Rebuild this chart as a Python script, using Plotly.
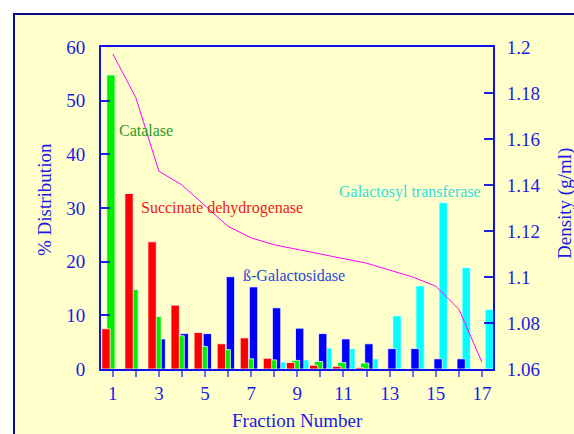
import plotly.graph_objects as go

fractions = list(range(1, 18))
succinate = [7.5, 32.7, 23.7, 11.9, 6.8, 4.7, 5.8, 2.0, 1.2, 0.7, 0.5, 0.25, None, None, None, None, None]
catalase = [54.8, 14.8, 9.8, 6.2, 4.2, 3.6, 1.9, 1.7, 1.6, 1.4, 1.2, 1.1, None, None, None, None, None]
beta_gal = [None, None, 5.6, 6.6, 6.6, 17.2, 15.3, 11.4, 7.6, 6.6, 5.6, 4.7, 3.8, 3.8, 1.9, 1.9, None]
galactosyl = [None, None, None, None, None, None, None, 1.3, 1.7, 3.9, 3.8, 1.9, 9.9, 15.5, 31.0, 18.9, 11.1]
density = [1.197, 1.178, 1.146, 1.140, 1.131, 1.122, 1.117, 1.114, 1.112, 1.110,
           1.108, 1.106, 1.103, 1.100, 1.096, 1.086, 1.063]

x_ticks = [1, 3, 5, 7, 9, 11, 13, 15, 17]
y_ticks = [0, 10, 20, 30, 40, 50, 60]
y2_ticks = [1.06, 1.08, 1.1, 1.12, 1.14, 1.16, 1.18, 1.2]
y2_text = ["1.06", "1.08", "1.1", "1.12", "1.14", "1.16", "1.18", "1.2"]

FONT = "Liberation Serif, Times New Roman, serif"
BLUE = "#1a1ae6"
BG = "#FFFFCC"
W = 0.36
edge = dict(color="rgba(255,255,255,0.75)", width=1)

PL, PT, PW, PH = 101, 47, 392, 322   # plot area on screen
FW, FH = 574, 434

fig = go.Figure()
# drawing order: cyan (back), blue, green, red (front)
fig.add_trace(go.Bar(x=fractions, y=galactosyl, name="Galactosyl transferase",
                     marker=dict(color="#00FFFF", line=edge), width=W, offset=0.14))
fig.add_trace(go.Bar(x=fractions, y=beta_gal, name="ß-Galactosidase",
                     marker=dict(color="#0000FF", line=edge), width=W, offset=-0.08))
fig.add_trace(go.Bar(x=fractions, y=catalase, name="Catalase",
                     marker=dict(color="#00EE00", line=edge), width=W, offset=-0.26))
fig.add_trace(go.Bar(x=fractions, y=succinate, name="Succinate dehydrogenase",
                     marker=dict(color="#FF0000", line=edge), width=W, offset=-0.475))
fig.add_trace(go.Scatter(x=fractions, y=density, yaxis="y2", mode="lines",
                         line=dict(color="#FF00FF", width=1), name="Density"))

fig.update_layout(
    width=FW, height=FH,
    margin=dict(l=PL, r=FW - PL - PW, t=PT, b=FH - PT - PH),
    paper_bgcolor="white", plot_bgcolor=BG,
    barmode="overlay", showlegend=False,
    font=dict(family=FONT, size=19, color=BLUE),
    xaxis=dict(range=[0.49, 17.48], tickvals=list(range(1, 18)),
               ticktext=[str(v) if v in x_ticks else "" for v in range(1, 18)],
               ticks="outside", ticklen=6, tickcolor="#7070ee", tickwidth=1.5,
               showline=True, linecolor="#1010ee", linewidth=2, mirror=True,
               showgrid=False, zeroline=False,
               tickfont=dict(family=FONT, size=19, color=BLUE)),
    yaxis=dict(range=[0, 60], tickvals=y_ticks, ticks="inside", ticklen=9,
               tickcolor="#2020dd", tickwidth=1.5,
               showline=True, linecolor="#1010ee", linewidth=2,
               showgrid=False, zeroline=False, ticklabelstandoff=10,
               tickfont=dict(family=FONT, size=19, color=BLUE)),
    yaxis2=dict(range=[1.06, 1.2], tickvals=y2_ticks, ticktext=y2_text,
                overlaying="y", side="right", ticks="inside", ticklen=9,
                tickcolor="#2020dd", tickwidth=1.5,
                showline=True, linecolor="#1010ee", linewidth=2,
                showgrid=False, zeroline=False, ticklabelstandoff=8,
                tickfont=dict(family=FONT, size=19, color=BLUE)),
)

def px_x(p):
    return (p - PL) / PW

def px_y(p):
    return (PT + PH - p) / PH

# outer panel
fig.add_shape(type="rect", xref="paper", yref="paper",
              x0=px_x(14), x1=px_x(700), y0=px_y(600), y1=px_y(14),
              line=dict(color="#0a0a8a", width=2), fillcolor=BG, layer="below")

# axis titles
fig.add_annotation(text="% Distribution", xref="paper", yref="paper",
                   x=px_x(45), y=px_y(200), textangle=-90,
                   showarrow=False, xanchor="center", yanchor="middle",
                   font=dict(family=FONT, size=19, color=BLUE))
fig.add_annotation(text="Density (g/ml)", xref="paper", yref="paper",
                   x=px_x(565), y=px_y(204), textangle=-90,
                   showarrow=False, xanchor="center", yanchor="middle",
                   font=dict(family=FONT, size=19, color=BLUE))
fig.add_annotation(text="Fraction Number", xref="paper", yref="paper",
                   x=px_x(297.5), y=px_y(420.5),
                   showarrow=False, xanchor="center", yanchor="middle",
                   font=dict(family=FONT, size=19, color=BLUE))

# series labels
labels = [
    ("Catalase", 1.17, 44.5, "#2a9a2a"),
    ("Succinate dehydrogenase", 2.15, 30.0, "#ee1a1a"),
    ("ß-Galactosidase", 6.56, 17.5, "#2a48d8"),
    ("Galactosyl transferase", 10.70, 33.0, "#33dddd"),
]
for txt, lx, ly, col in labels:
    fig.add_annotation(text=txt, x=lx, y=ly, xref="x", yref="y", showarrow=False,
                       xanchor="left", yanchor="middle",
                       font=dict(family=FONT, size=16, color=col))

fig.write_html("out.html",
               config={"displayModeBar": False},
               post_script="document.body.style.margin='0px';"
                           "document.body.style.overflow='hidden';")
